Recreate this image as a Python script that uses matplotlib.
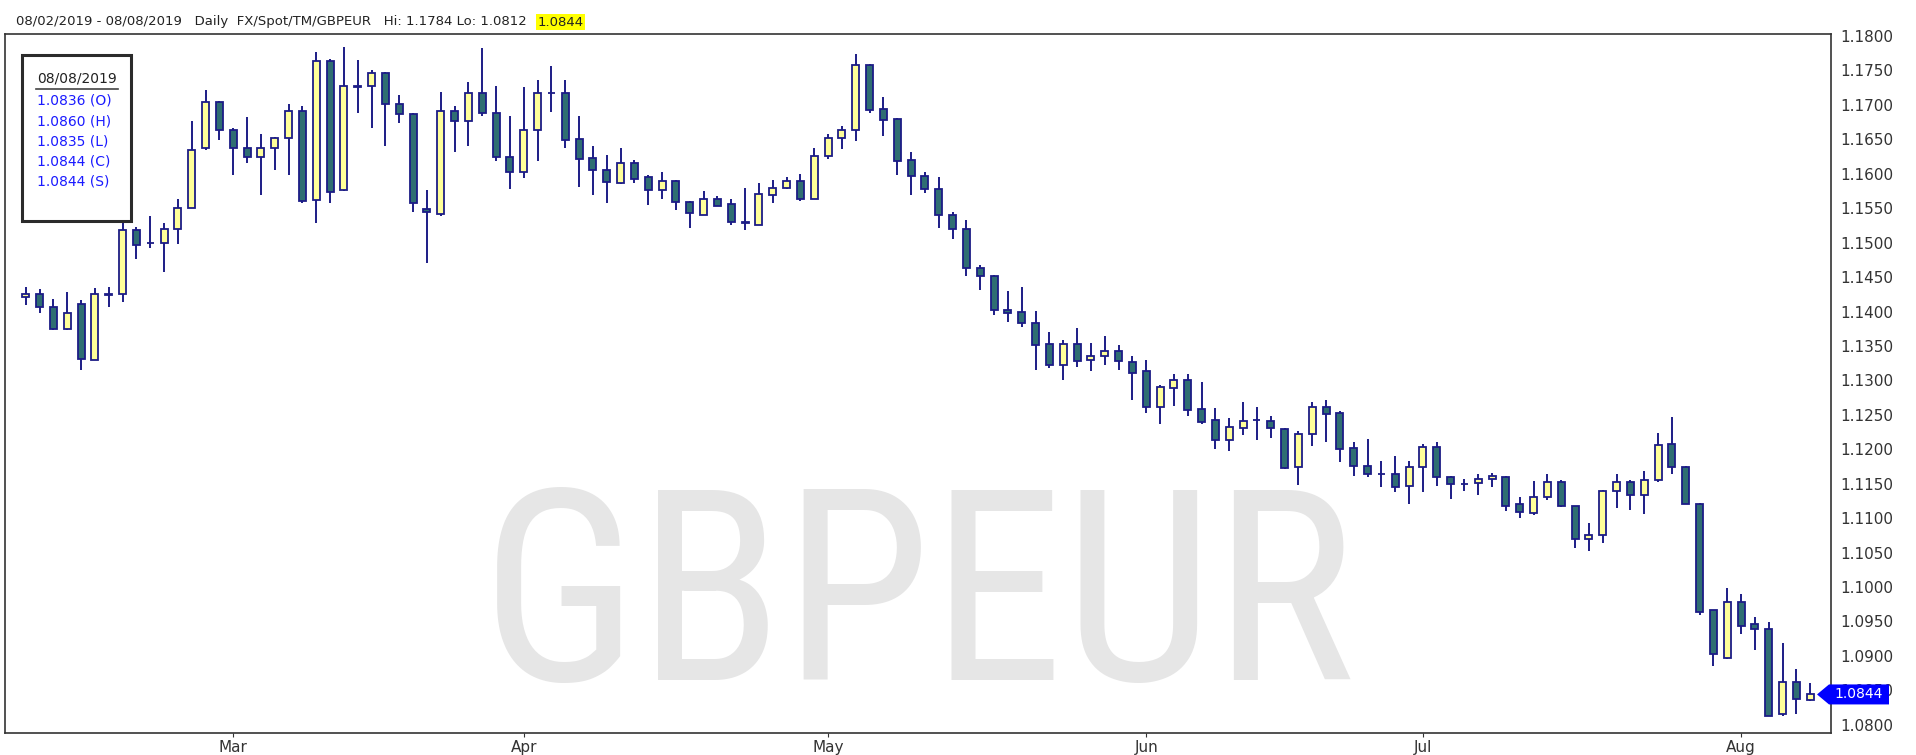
import matplotlib
matplotlib.use("Agg")
import matplotlib.pyplot as plt
from matplotlib.patches import Polygon, Rectangle
from matplotlib.lines import Line2D
import numpy as np
import pandas as pd

# daily GBPEUR candles, 08 Feb 2019 .. 08 Aug 2019 (weekdays)
dates = pd.bdate_range("2019-02-08", "2019-08-08")

opens = [
    1.1421, 1.1426, 1.1407, 1.1374, 1.1411, 1.1330, 1.1424, 1.1426, 1.1518, 1.1499,
    1.1500, 1.1520, 1.1551, 1.1638, 1.1704, 1.1664, 1.1637, 1.1624, 1.1637, 1.1652,
    1.1691, 1.1562, 1.1764, 1.1576, 1.1726, 1.1727, 1.1747, 1.1701, 1.1687, 1.1549,
    1.1542, 1.1691, 1.1677, 1.1718, 1.1689, 1.1624, 1.1603, 1.1663, 1.1718, 1.1718,
    1.1650, 1.1623, 1.1606, 1.1587, 1.1616, 1.1596, 1.1576, 1.1589, 1.1559, 1.1540,
    1.1564, 1.1556, 1.1530, 1.1526, 1.1569, 1.1580, 1.1589, 1.1563, 1.1626, 1.1652,
    1.1664, 1.1758, 1.1694, 1.1679, 1.1620, 1.1597, 1.1578, 1.1540, 1.1520, 1.1463,
    1.1452, 1.1402, 1.1399, 1.1383, 1.1353, 1.1322, 1.1353, 1.1329, 1.1335, 1.1342,
    1.1327, 1.1313, 1.1261, 1.1289, 1.1300, 1.1258, 1.1242, 1.1214, 1.1231, 1.1242,
    1.1241, 1.1229, 1.1174, 1.1222, 1.1262, 1.1252, 1.1202, 1.1176, 1.1164, 1.1164,
    1.1147, 1.1174, 1.1203, 1.1160, 1.1149, 1.1151, 1.1157, 1.1160, 1.1120, 1.1108,
    1.1131, 1.1153, 1.1118, 1.1070, 1.1076, 1.1140, 1.1153, 1.1133, 1.1155, 1.1208,
    1.1174, 1.1120, 1.0967, 1.0897, 1.0978, 1.0946, 1.0939, 1.0815, 1.0862, 1.0836,
]
highs = [
    1.1436, 1.1432, 1.1418, 1.1428, 1.1417, 1.1434, 1.1436, 1.1531, 1.1523, 1.1539,
    1.1529, 1.1564, 1.1676, 1.1722, 1.1706, 1.1666, 1.1682, 1.1658, 1.1654, 1.1702,
    1.1698, 1.1777, 1.1766, 1.1784, 1.1765, 1.1751, 1.1748, 1.1714, 1.1688, 1.1577,
    1.1719, 1.1698, 1.1734, 1.1783, 1.1727, 1.1684, 1.1726, 1.1736, 1.1757, 1.1736,
    1.1684, 1.1640, 1.1627, 1.1637, 1.1620, 1.1598, 1.1602, 1.1591, 1.1560, 1.1575,
    1.1568, 1.1564, 1.1579, 1.1587, 1.1591, 1.1596, 1.1600, 1.1637, 1.1658, 1.1669,
    1.1774, 1.1759, 1.1711, 1.1681, 1.1631, 1.1602, 1.1596, 1.1544, 1.1533, 1.1468,
    1.1453, 1.1430, 1.1436, 1.1401, 1.1370, 1.1359, 1.1376, 1.1355, 1.1364, 1.1351,
    1.1336, 1.1330, 1.1294, 1.1309, 1.1309, 1.1298, 1.1260, 1.1245, 1.1269, 1.1262,
    1.1248, 1.1231, 1.1227, 1.1268, 1.1271, 1.1256, 1.1210, 1.1215, 1.1183, 1.1190,
    1.1183, 1.1208, 1.1210, 1.1161, 1.1157, 1.1164, 1.1165, 1.1161, 1.1131, 1.1154,
    1.1164, 1.1155, 1.1118, 1.1093, 1.1141, 1.1164, 1.1156, 1.1169, 1.1223, 1.1247,
    1.1175, 1.1122, 1.0967, 1.0998, 1.0990, 1.0956, 1.0949, 1.0919, 1.0881, 1.0860,
]
lows = [
    1.1410, 1.1398, 1.1373, 1.1373, 1.1315, 1.1329, 1.1407, 1.1414, 1.1477, 1.1492,
    1.1458, 1.1498, 1.1550, 1.1634, 1.1649, 1.1598, 1.1615, 1.1569, 1.1606, 1.1598,
    1.1557, 1.1528, 1.1558, 1.1575, 1.1689, 1.1667, 1.1640, 1.1674, 1.1544, 1.1471,
    1.1538, 1.1632, 1.1640, 1.1684, 1.1619, 1.1578, 1.1594, 1.1619, 1.1690, 1.1638,
    1.1581, 1.1569, 1.1558, 1.1585, 1.1587, 1.1555, 1.1563, 1.1548, 1.1521, 1.1540,
    1.1553, 1.1526, 1.1519, 1.1526, 1.1557, 1.1578, 1.1561, 1.1563, 1.1621, 1.1636,
    1.1647, 1.1689, 1.1655, 1.1598, 1.1569, 1.1572, 1.1521, 1.1506, 1.1452, 1.1431,
    1.1395, 1.1385, 1.1378, 1.1315, 1.1318, 1.1301, 1.1319, 1.1313, 1.1322, 1.1315,
    1.1272, 1.1252, 1.1236, 1.1263, 1.1249, 1.1236, 1.1200, 1.1197, 1.1220, 1.1214,
    1.1216, 1.1171, 1.1148, 1.1205, 1.1211, 1.1182, 1.1161, 1.1160, 1.1145, 1.1138,
    1.1121, 1.1138, 1.1146, 1.1128, 1.1140, 1.1134, 1.1145, 1.1111, 1.1100, 1.1105,
    1.1126, 1.1116, 1.1057, 1.1052, 1.1064, 1.1115, 1.1112, 1.1106, 1.1153, 1.1164,
    1.1121, 1.0960, 1.0886, 1.0895, 1.0932, 1.0908, 1.0812, 1.0812, 1.0816, 1.0835,
]
closes = [
    1.1426, 1.1406, 1.1374, 1.1398, 1.1331, 1.1425, 1.1425, 1.1518, 1.1496, 1.1500,
    1.1520, 1.1551, 1.1635, 1.1704, 1.1664, 1.1637, 1.1624, 1.1637, 1.1652, 1.1691,
    1.1560, 1.1764, 1.1574, 1.1727, 1.1727, 1.1747, 1.1702, 1.1687, 1.1557, 1.1545,
    1.1691, 1.1677, 1.1717, 1.1689, 1.1624, 1.1603, 1.1663, 1.1717, 1.1718, 1.1649,
    1.1622, 1.1605, 1.1588, 1.1616, 1.1592, 1.1576, 1.1589, 1.1559, 1.1543, 1.1564,
    1.1553, 1.1530, 1.1529, 1.1570, 1.1580, 1.1589, 1.1563, 1.1626, 1.1652, 1.1664,
    1.1758, 1.1693, 1.1678, 1.1618, 1.1597, 1.1578, 1.1540, 1.1520, 1.1463, 1.1452,
    1.1402, 1.1398, 1.1383, 1.1352, 1.1322, 1.1353, 1.1328, 1.1336, 1.1342, 1.1328,
    1.1311, 1.1261, 1.1290, 1.1300, 1.1257, 1.1240, 1.1214, 1.1233, 1.1241, 1.1242,
    1.1231, 1.1173, 1.1222, 1.1262, 1.1251, 1.1201, 1.1176, 1.1164, 1.1164, 1.1145,
    1.1174, 1.1204, 1.1160, 1.1149, 1.1150, 1.1157, 1.1161, 1.1118, 1.1109, 1.1130,
    1.1153, 1.1117, 1.1069, 1.1076, 1.1140, 1.1153, 1.1133, 1.1156, 1.1206, 1.1174,
    1.1121, 1.0964, 1.0902, 1.0978, 1.0944, 1.0939, 1.0812, 1.0862, 1.0837, 1.0844,
]

symbol = "GBPEUR"
header = "08/02/2019 - 08/08/2019   Daily  FX/Spot/TM/GBPEUR   Hi: 1.1784 Lo: 1.0812"
last_price = closes[-1]
info_date = "08/08/2019"
info_lines = ["1.0836 (O)", "1.0860 (H)", "1.0835 (L)", "1.0844 (C)", "1.0844 (S)"]

UP = "#ffff99"
DOWN = "#2f6e72"
EDGE = "#1c1c86"
W, H = 1916, 755


def fx(px):
    return px / W


def fy(py):
    return 1 - py / H


fig = plt.figure(figsize=(W / 100, H / 100), dpi=100)
ax = fig.add_axes([fx(5), fy(733), fx(1831) - fx(5), fy(34) - fy(733)])

o = np.array(opens)
c = np.array(closes)
x = np.arange(len(dates))
up = c >= o

ax.vlines(x, lows, highs, color=EDGE, lw=1.4, zorder=2)
ax.bar(x, np.abs(c - o), bottom=np.minimum(o, c), width=0.5,
       color=np.where(up, UP, DOWN), edgecolor=EDGE, linewidth=1.3, zorder=3)

# watermark
ax.text(0.5, 0.076, symbol, transform=ax.transAxes, ha="center", va="baseline",
        fontsize=192, color="#e6e6e6", zorder=0,
        family=["Roboto Condensed", "Roboto", "DejaVu Sans"])

ax.set_xlim(-1.5, 130.5)
ax.set_ylim(1.0788, 1.1803)

yt = np.arange(1.08, 1.18001, 0.005)
ax.yaxis.tick_right()
ax.set_yticks(yt, [f"{v:.4f}" for v in yt])
ax.tick_params(axis="y", length=0, pad=7, labelsize=11, labelcolor="#333333")

month_idx = [i for i in range(1, len(dates)) if dates[i].month != dates[i - 1].month]
ax.set_xticks(month_idx, [dates[i].strftime("%b") for i in month_idx])
ax.tick_params(axis="x", length=3, pad=2, labelsize=11, labelcolor="#333333",
               color="#333333")

for s in ax.spines.values():
    s.set_color("#333333")
    s.set_linewidth(1.2)

# header line
t = fig.text(fx(16), fy(22), header, fontsize=9.5, va="center", color="#222222")
fig.canvas.draw()
bb = t.get_window_extent()
fig.text(bb.x1 / W + fx(11), fy(22), f"{last_price:.4f}", fontsize=9.5, va="center",
         color="#222222",
         bbox=dict(boxstyle="square,pad=0.12", fc="#ffff00", ec="none"))

# OHLC info box
fig.add_artist(Rectangle((fx(22), fy(221)), fx(131) - fx(22), fy(55) - fy(221),
                         fill=False, ec="#2b2b2b", lw=2.2, transform=fig.transFigure))
fig.text(fx(37), fy(79), info_date, fontsize=10, va="center", color="#222222")
fig.add_artist(Line2D([fx(36), fx(118)], [fy(89), fy(89)], color="#444444", lw=1.2,
                      transform=fig.transFigure))
for k, s in enumerate(info_lines):
    fig.text(fx(37), fy(101 + 20.2 * k), s, fontsize=10, va="center", color="#1a1aff")

# last price marker on the right axis
ym = ax.transData.transform((0, last_price))[1]
py = H - ym
fig.add_artist(Polygon([(fx(1817), fy(py)), (fx(1829), fy(py - 10)), (fx(1889), fy(py - 10)),
                        (fx(1889), fy(py + 10)), (fx(1829), fy(py + 10))],
                       closed=True, fc="#0000ff", ec="none", transform=fig.transFigure,
                       zorder=5))
fig.text(fx(1859), fy(py), f"{last_price:.4f}", fontsize=10, color="white",
         ha="center", va="center", zorder=6)

fig.savefig("out.png", dpi=100)
